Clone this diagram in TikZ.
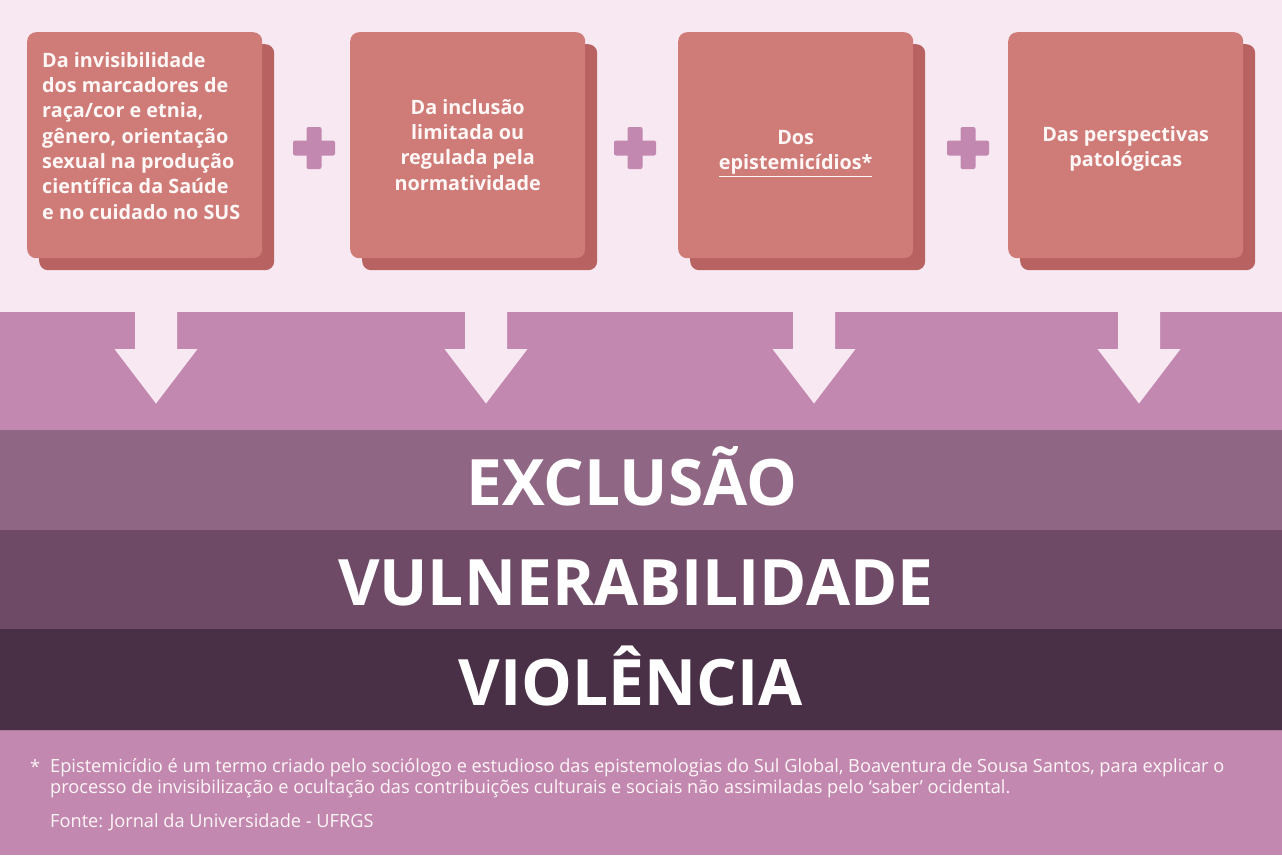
\documentclass[tikz,border=0pt]{standalone}
\usepackage{fontspec}
\setmainfont{Open Sans}
\definecolor{bgtop}{HTML}{F8E8F2}
\definecolor{band}{HTML}{C288B0}
\definecolor{boxc}{HTML}{CF7B78}
\definecolor{shadc}{HTML}{B86262}
\definecolor{exclc}{HTML}{906685}
\definecolor{vulnc}{HTML}{6F4A66}
\definecolor{violc}{HTML}{4A3047}
\definecolor{txtw}{HTML}{FFF6F6}
\begin{document}
\begin{tikzpicture}[x=1pt,y=-1pt,
  card/.style={fill=boxc,rounded corners=9pt,minimum width=235pt,minimum height=226pt,anchor=north west,inner sep=0pt},
  cardshadow/.style={fill=shadc,rounded corners=9pt,minimum width=235pt,minimum height=226pt,anchor=north west,inner sep=0pt},
  cardtext/.style={text=txtw,font=\bfseries\fontsize{19.8}{25.3}\selectfont,inner sep=0pt},
  plusbar/.style={fill=band,rounded corners=2pt,inner sep=0pt},
  bandtitle/.style={text=white,font=\bfseries\fontsize{64}{66}\selectfont,inner sep=0pt,anchor=base},
  downarrow/.style={fill=bgtop},
  foot/.style={text=txtw,font=\fontsize{18.2}{21}\selectfont,inner sep=0pt,anchor=base west}]
\useasboundingbox (0,0) rectangle (1282,855);
% backgrounds
\fill[bgtop] (0,0) rectangle (1282,313);
\fill[band] (0,312) rectangle (1282,431);
\node[fill=exclc,minimum width=1282pt,minimum height=100pt,anchor=north west,inner sep=0pt] (excl) at (0,430) {};
\node[fill=vulnc,minimum width=1282pt,minimum height=100pt,anchor=north west,inner sep=0pt] (vuln) at (0,530) {};
\node[fill=violc,minimum width=1282pt,minimum height=101pt,anchor=north west,inner sep=0pt] (viol) at (0,629) {};
\fill[band] (0,730) rectangle (1282,855);
\draw[band!80!black,line width=0.8pt,opacity=0.5] (0,730.5) -- (1282,730.5);
% arrows
\foreach \cx in {156,486,814,1139}{
  \fill[downarrow] (\cx-21,311) -- (\cx+21,311) -- (\cx+21,349) -- (\cx+41.5,349) -- (\cx,403.5) -- (\cx-41.5,349) -- (\cx-21,349) -- cycle;
}
% cards
\node[cardshadow] (s1) at (39,44) {};
\node[card] (c1) at (27,32) {};
\node[cardshadow] (s2) at (362,44) {};
\node[card] (c2) at (350,32) {};
\node[cardshadow] (s3) at (690,44) {};
\node[card] (c3) at (678,32) {};
\node[cardshadow] (s4) at (1020,44) {};
\node[card] (c4) at (1008,32) {};
% card texts
\node[cardtext,anchor=north west,align=left] (t1) at ([xshift=15pt,yshift=-20pt]c1.north west)
  {Da invisibilidade\\dos marcadores de\\raça/cor e etnia,\\gênero, orientação\\sexual na produção\\científica da Saúde\\e no cuidado no SUS};
\node[cardtext,anchor=north,align=center] (t2) at ([xshift=0pt,yshift=-67pt]c2.north)
  {Da inclusão\\limitada ou\\regulada pela\\normatividade};
\node[cardtext,anchor=north,align=center] (t3) at ([xshift=0pt,yshift=-98pt]c3.north)
  {Dos\\\underline{epistemicídios*}};
\node[cardtext,anchor=north,align=center] (t4) at ([xshift=0pt,yshift=-94pt]c4.north)
  {Das perspectivas\\patológicas};
% plus signs
\foreach \n/\px in {1/314,2/635,3/968}{
  \node[plusbar,minimum width=15pt,minimum height=42pt] (pv\n) at (\px,148) {};
  \node[plusbar,minimum width=42pt,minimum height=15pt] (ph\n) at (pv\n.center) {};
}
% titles
\node[bandtitle] (l1) at ([xshift=-9.5pt]excl.north |- 0,505.5) {EXCLUSÃO};
\node[bandtitle] (l2) at ([xshift=-5.5pt]vuln.north |- 0,605.5) {VULNERABILIDADE};
\node[bandtitle] (l3) at ([xshift=-10.5pt]viol.north |- 0,705) {VIOLÊNCIA};
% footnote
\node[foot] (ast) at (30,773) {*};
\node[foot,align=left,anchor=north west] (fn) at (50,758) {Epistemicídio é um termo criado pelo sociólogo e estudioso das epistemologias do Sul Global, Boaventura de Sousa Santos, para explicar o\\processo de invisibilização e ocultação das contribuições culturais e sociais não assimiladas pelo ‘saber’ ocidental.};
\node[foot] (src) at (50,827) {Fonte: Jornal da Universidade - UFRGS};
\end{tikzpicture}
\end{document}
